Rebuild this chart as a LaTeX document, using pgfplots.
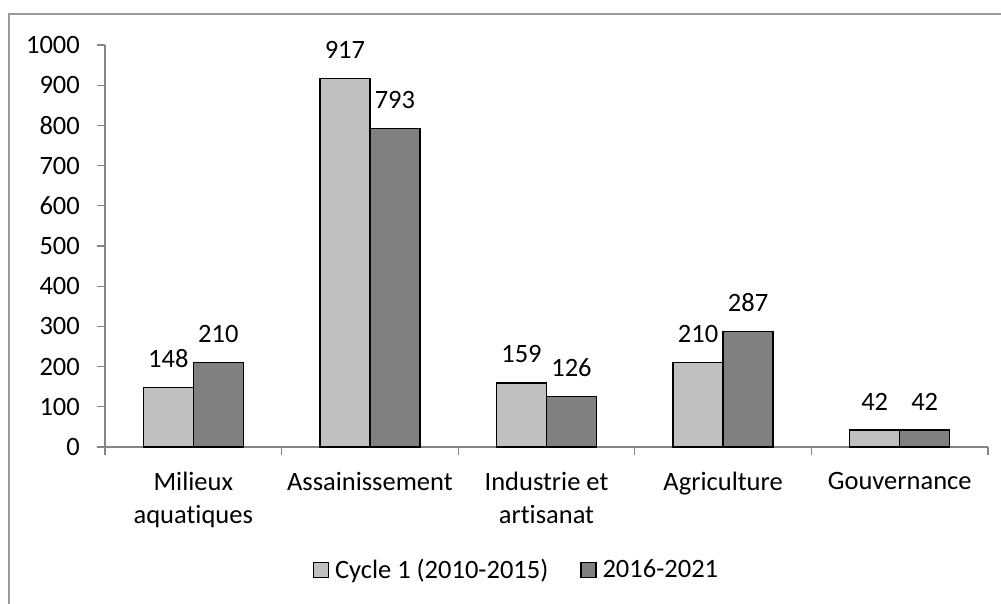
\documentclass[border=0pt]{standalone}
\usepackage{fontspec}
\setmainfont[Ligatures=NoCommon]{Carlito}
\usepackage{pgfplots}
\pgfplotsset{compat=1.18}
\definecolor{lightbar}{HTML}{C0C0C0}
\definecolor{darkbar}{HTML}{808080}
\definecolor{axgray}{HTML}{868686}
\definecolor{framegray}{HTML}{999999}
\newcommand{\bigf}{\fontsize{26.5}{33}\selectfont}
\begin{document}
\begin{tikzpicture}[x=1pt,y=1pt]
\useasboundingbox (0,0) rectangle (1001,603);
\draw[framegray, line width=1.6pt] (9,-5) -- (9,589) -- (1006,589);
\begin{axis}[
  at={(105pt,156pt)}, anchor=south west,
  scale only axis, width=883pt, height=402pt,
  ymin=0, ymax=1000, xmin=-0.5, xmax=4.5,
  ytick={0,100,...,1000},
  xtick={-0.5,0.5,...,4.5},
  xticklabels={},
  extra x ticks={0,1,2,3,4},
  extra x tick labels={{Milieux\\aquatiques},{Assainissement},{Industrie et\\artisanat},{Agriculture},{Gouvernance}},
  extra x tick style={major tick length=0pt},
  axis x line*=bottom, axis y line*=left,
  axis line style={axgray, line width=1.3pt, -},
  tick align=outside,
  major tick length=8pt,
  tick style={axgray, line width=1.3pt},
  /pgf/number format/assume math mode=true,
  /pgf/number format/1000 sep={},
  tick label style={font=\bigf},
  yticklabel style={anchor=east, inner sep=0pt, xshift=-17pt},
  xticklabel style={align=center, anchor=north, inner sep=0pt, yshift=-25pt},
  ybar=0pt, bar width=50pt,
  nodes near coords,
  nodes near coords style={font=\bigf, text=black, yshift=16pt},
  legend columns=2,
  legend style={at={(0.466,-0.305)}, anchor=center, draw=none, font=\bigf,
    /tikz/every odd column/.append style={column sep=4pt},
    /tikz/every even column/.append style={column sep=30pt}},
]
\addplot[fill=lightbar, draw=black, line width=1.3pt,
  legend image code/.code={\draw[fill=lightbar, draw=black, line width=1.2pt] (0pt,-7.5pt) rectangle (15pt,7.5pt);}]
  coordinates {(0,148) (1,917) (2,159) (3,210) (4,42)};
\addplot[fill=darkbar, draw=black, line width=1.3pt,
  legend image code/.code={\draw[fill=darkbar, draw=black, line width=1.2pt] (0pt,-7.5pt) rectangle (15pt,7.5pt);}]
  coordinates {(0,210) (1,793) (2,126) (3,287) (4,42)};
\legend{Cycle 1 (2010-2015), 2016-2021}
\end{axis}
\end{tikzpicture}
\end{document}
